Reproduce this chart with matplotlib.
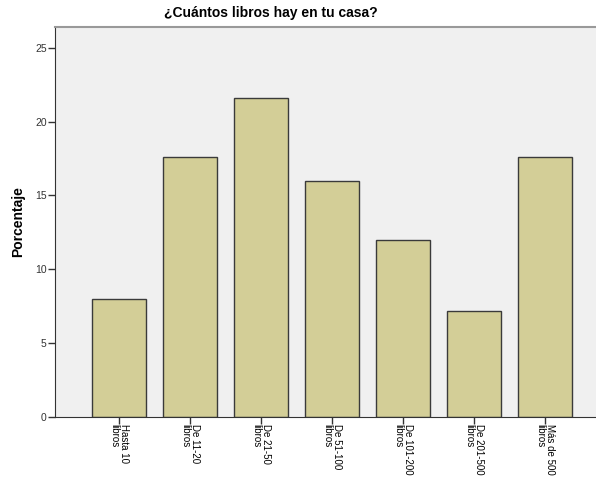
import matplotlib
matplotlib.use('Agg')
import matplotlib.pyplot as plt
import numpy as np

# Datos
categorias = ['Hasta 10\nlibros', 'De 11-20\nlibros', 'De 21-50\nlibros',
              'De 51-100\nlibros', 'De 101-200\nlibros', 'De 201-500\nlibros',
              'Más de 500\nlibros']
porcentaje = [8.0, 17.6, 21.6, 16.0, 12.0, 7.2, 17.6]
yticks = [0, 5, 10, 15, 20, 25]

plt.rcParams['font.family'] = ['Liberation Sans', 'DejaVu Sans']

fig = plt.figure(figsize=(5.96, 4.79), dpi=100)
ax = fig.add_axes([0.0923, 0.1294, 0.9077, 0.8142])
ax.set_facecolor('#f0f0f0')

x = np.arange(len(categorias))
ax.bar(x, porcentaje, width=0.76, color='#d3ce97', edgecolor='#3a3a3a', linewidth=1)

ax.set_xlim(-0.9, 6.72)
ax.set_ylim(0, 26.4)
ax.set_yticks(yticks)
ax.set_yticklabels([str(t) for t in yticks], fontsize=7.5, color='#333333')
ax.set_xticks(x)
ax.set_xticklabels(categorias, rotation=270, fontsize=7, ha='center', va='top',
                   multialignment='left', linespacing=0.95)
ax.tick_params(axis='both', direction='out', length=5, width=1, color='#333333', pad=1)
ax.tick_params(axis='x', pad=0)

ax.spines['right'].set_visible(False)
ax.spines['top'].set_color('#999999')
ax.spines['top'].set_linewidth(1.5)
ax.spines['left'].set_color('#333333')
ax.spines['bottom'].set_color('#333333')

ax.set_ylabel('Porcentaje', fontsize=10, fontweight='bold', labelpad=7)
fig.text(0.455, 0.973, '¿Cuántos libros hay en tu casa?', fontsize=10,
         fontweight='bold', ha='center', va='center')

fig.savefig('out.png', dpi=100)
